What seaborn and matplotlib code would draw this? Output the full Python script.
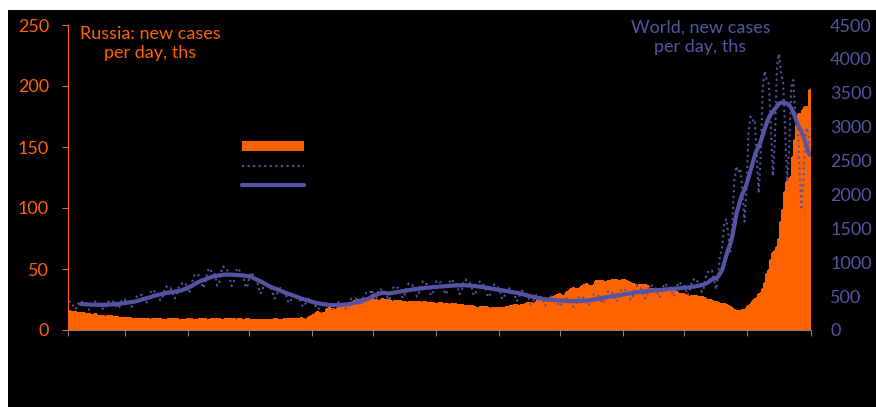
import numpy as np
import pandas as pd
import matplotlib
matplotlib.use("Agg")
import matplotlib.pyplot as plt
from matplotlib.patches import Patch, Rectangle
from matplotlib.lines import Line2D
import seaborn as sns

# Russia: new cases per day, thousands (one value per day, one row per week)
russia_daily = [
    15.2, 15.0, 14.9, 14.6, 14.3, 14.1, 14.0,
    13.8, 13.4, 13.2, 12.9, 12.6, 12.4, 12.8,
    11.8, 11.6, 11.5, 11.3, 11.0, 11.2, 11.4,
    11.1, 10.8, 10.6, 10.5, 10.2, 9.9, 9.8,
    9.8, 9.7, 9.6, 9.4, 9.3, 9.2, 9.3,
    9.3, 9.2, 9.0, 9.0, 8.9, 8.6, 8.8,
    8.7, 8.8, 9.1, 9.0, 8.6, 8.3, 8.5,
    8.7, 8.8, 9.0, 8.8, 8.7, 8.3, 8.3,
    8.3, 8.5, 8.7, 8.7, 8.8, 8.3, 8.3,
    8.6, 8.7, 8.8, 8.8, 8.8, 8.3, 8.1,
    8.8, 9.0, 9.3, 9.2, 8.8, 8.4, 8.6,
    8.8, 9.0, 9.3, 9.3, 8.9, 8.5, 8.8,
    8.7, 8.4, 8.5, 8.8, 8.7, 8.3, 8.3,
    8.3, 8.2, 8.3, 8.4, 8.6, 8.2, 8.4,
    8.2, 8.5, 8.6, 8.9, 8.7, 8.0, 7.9,
    8.3, 8.8, 9.0, 9.2, 9.3, 8.9, 9.0,
    8.9, 9.2, 9.6, 9.0, 8.6, 9.2, 10.4,
    11.7, 12.5, 13.5, 14.7, 13.7, 13.4, 14.1,
    14.2, 17.3, 17.9, 17.6, 17.4, 16.7, 17.6,
    20.2, 20.4, 21.7, 21.7, 20.5, 20.6, 21.0,
    23.5, 23.2, 24.4, 24.4, 25.1, 23.4, 24.0,
    25.1, 25.8, 25.1, 24.7, 24.4, 23.8, 24.1,
    25.3, 25.0, 24.8, 24.4, 24.0, 23.3, 23.5,
    24.1, 23.8, 23.9, 23.3, 22.8, 22.4, 22.6,
    23.0, 23.3, 23.2, 23.1, 23.0, 22.1, 22.6,
    22.6, 22.2, 22.1, 22.0, 22.3, 21.4, 21.6,
    21.9, 21.9, 21.6, 21.6, 21.0, 20.7, 21.0,
    21.0, 21.1, 20.8, 20.6, 20.1, 19.6, 19.7,
    19.6, 19.6, 19.5, 18.9, 18.3, 17.9, 18.6,
    18.9, 18.8, 18.6, 17.9, 17.3, 17.9, 18.1,
    18.0, 18.2, 18.1, 17.8, 17.5, 18.8, 19.0,
    19.6, 19.9, 20.2, 20.3, 19.9, 20.2, 20.9,
    21.4, 21.9, 22.4, 22.2, 21.6, 22.4, 23.9,
    23.8, 24.5, 25.1, 24.9, 24.5, 25.1, 27.0,
    27.2, 27.9, 29.0, 29.4, 28.2, 27.9, 28.7,
    31.3, 32.2, 33.2, 34.3, 34.0, 33.7, 34.1,
    35.7, 37.1, 37.7, 35.6, 35.7, 36.4, 36.6,
    39.8, 40.1, 40.3, 40.2, 39.4, 38.6, 40.4,
    40.5, 40.9, 41.3, 40.7, 39.9, 39.2, 40.8,
    40.8, 40.0, 39.2, 38.8, 37.6, 36.6, 36.3,
    36.8, 37.1, 37.1, 37.1, 35.7, 33.9, 33.8,
    33.6, 33.5, 33.5, 33.4, 32.6, 32.1, 32.6,
    32.9, 32.8, 32.5, 32.1, 31.6, 30.7, 29.9,
    29.9, 29.6, 28.5, 28.0, 27.4, 28.0, 28.0,
    27.8, 27.4, 26.9, 26.8, 25.9, 25.0, 24.7,
    24.5, 23.8, 23.2, 22.8, 21.9, 21.2, 21.2,
    21.0, 20.1, 19.3, 18.6, 17.5, 16.8, 15.8,
    15.6, 15.9, 16.0, 16.2, 17.5, 19.5, 21.1,
    23.8, 25.1, 26.2, 29.1, 30.2, 33.9, 38.4,
    45.5, 49.5, 57.2, 63.2, 65.1, 67.8, 74.7,
    88.8, 98.0, 113.1, 121.2, 124.1, 125.8, 141.9,
    155.7, 168.2, 177.3, 166.6, 180.5, 183.1, 180.5,
    197.1,
]

# World: new cases per day, thousands
world_daily = [
    420, 418, 378, 307, 329, 404, 432,
    404, 403, 365, 298, 319, 393, 422,
    400, 402, 366, 300, 324, 401, 433,
    414, 418, 383, 316, 343, 427, 464,
    442, 449, 415, 344, 376, 471, 514,
    508, 517, 477, 396, 433, 542, 593,
    569, 576, 528, 436, 474, 590, 642,
    610, 616, 564, 464, 503, 625, 678,
    690, 705, 653, 544, 597, 749, 822,
    800, 811, 745, 616, 671, 836, 911,
    870, 874, 796, 652, 703, 870, 939,
    883, 880, 797, 648, 695, 853, 915,
    875, 864, 774, 624, 662, 806, 855,
    770, 755, 670, 536, 564, 679, 715,
    665, 652, 580, 464, 488, 589, 620,
    575, 563, 501, 400, 421, 508, 534,
    492, 483, 430, 344, 362, 438, 461,
    424, 420, 376, 304, 323, 393, 418,
    395, 396, 360, 294, 317, 391, 422,
    402, 408, 376, 312, 341, 426, 465,
    457, 467, 432, 360, 395, 496, 544,
    534, 541, 600, 470, 450, 563, 613,
    580, 585, 536, 442, 479, 596, 646,
    620, 625, 571, 470, 510, 633, 686,
    657, 660, 603, 494, 534, 663, 716,
    678, 681, 620, 509, 550, 679, 734,
    702, 704, 640, 524, 565, 697, 752,
    716, 715, 648, 528, 567, 697, 749,
    703, 699, 630, 511, 546, 669, 715,
    670, 664, 598, 484, 516, 631, 673,
    633, 627, 564, 456, 486, 593, 632,
    594, 588, 526, 424, 450, 547, 581,
    532, 526, 471, 380, 403, 491, 521,
    491, 487, 439, 356, 380, 465, 496,
    469, 467, 422, 344, 369, 454, 486,
    458, 459, 418, 342, 369, 457, 492,
    472, 476, 437, 360, 390, 487, 528,
    511, 516, 473, 390, 424, 528, 573,
    545, 551, 505, 416, 452, 562, 610,
    589, 593, 543, 446, 483, 601, 651,
    617, 620, 565, 464, 501, 621, 671,
    638, 640, 584, 478, 517, 639, 691,
    654, 658, 600, 492, 531, 658, 711,
    672, 678, 621, 512, 556, 691, 750,
    701, 719, 669, 560, 617, 778, 856,
    851, 880, 756, 598, 782, 1104, 1200,
    1551, 1639, 1436, 1156, 1534, 2197, 2418,
    2326, 2385, 2033, 1598, 2075, 2912, 3148,
    3088, 3111, 2609, 2020, 2585, 3579, 3820,
    3680, 3634, 2990, 2271, 2854, 3882, 4073,
    3771, 3650, 2942, 2190, 2695, 3590, 3688,
    3177, 3056, 2447, 1809, 2211, 2923, 2980,
    2690,
]

left_ticks = [0, 50, 100, 150, 200, 250]
right_ticks = [0, 500, 1000, 1500, 2000, 2500, 3000, 3500, 4000, 4500]
month_lengths = [28, 31, 30, 31, 30, 31, 31, 30, 31, 30, 31, 31]

left_title = "Russia: new cases\nper day, ths"
right_title = "World, new cases\nper day, ths"

ORANGE = "#FF6200"
PURPLE = "#5753A4"
GREY = "#808080"

days = np.arange(len(russia_daily))
df = pd.DataFrame({"day": days, "russia": russia_daily, "world": world_daily})
df["world_avg7"] = df["world"].rolling(7).mean()

sns.set_theme(style="dark", rc={"axes.facecolor": "black", "figure.facecolor": "white"})
plt.rcParams["font.family"] = ["Lato", "DejaVu Sans"]

W, H = 876, 407
fig = plt.figure(figsize=(W / 100, H / 100), dpi=100, facecolor="white")
fig.patches.append(Rectangle((8 / W, 0), 1, 1 - 10 / H, transform=fig.transFigure,
                             facecolor="black", edgecolor="none", zorder=-10))

x0, x1, ytop, ybot = 67.6, 810.6, 25.0, 330.0
ax = fig.add_axes([x0 / W, 1 - ybot / H, (x1 - x0) / W, (ybot - ytop) / H])
ax.set_facecolor("black")

# daily bars drawn edge to edge, without anti-aliasing seams between them
sns.barplot(data=df, x="day", y="russia", native_scale=True, width=1, color=ORANGE,
            saturation=1, linewidth=0.8, edgecolor=ORANGE, errorbar=None,
            antialiased=False, ax=ax)

ax2 = ax.twinx()
sns.lineplot(data=df, x="day", y="world", ax=ax2, color=PURPLE, lw=1.5,
             linestyle=(0, (1, 1.67)), errorbar=None)
sns.lineplot(data=df, x="day", y="world_avg7", ax=ax2, color=PURPLE, lw=3,
             errorbar=None)

ax.set_xlim(-0.5, len(days) - 0.5)
ax.set_ylim(0, 250)
ax.set_yticks(left_ticks)
ax2.set_ylim(0, 4500)
ax2.set_yticks(right_ticks)
ax.set_xticks(np.cumsum([0] + month_lengths) - 0.5)

for a in (ax, ax2):
    a.set_xlabel("")
    a.set_ylabel("")
    a.grid(False)

ax.tick_params(axis="x", bottom=True, length=4, width=0.8, color=GREY,
               labelbottom=False, direction="out")
ax.tick_params(axis="y", left=True, colors=ORANGE, labelsize=13, length=4.3,
               width=0.8, pad=9, direction="out")
ax2.tick_params(axis="y", right=True, colors=PURPLE, labelsize=13, length=0, pad=14)

for s in ("top", "right"):
    ax.spines[s].set_visible(False)
ax.spines["left"].set_color(ORANGE)
ax.spines["left"].set_linewidth(0.8)
ax.spines["bottom"].set_color(GREY)
ax.spines["bottom"].set_linewidth(0.8)
for s in ax2.spines.values():
    s.set_visible(False)

fig.text(150 / W, 1 - 43.7 / H, left_title, color=ORANGE, fontsize=13,
         ha="center", va="center", linespacing=1.27)
fig.text(700.5 / W, 1 - 37 / H, right_title, color=PURPLE, fontsize=13,
         ha="center", va="center", linespacing=1.27)

handles = [
    Patch(facecolor=ORANGE, edgecolor="none"),
    Line2D([], [], color=PURPLE, lw=1.5, linestyle=(0, (1, 1.67))),
    Line2D([], [], color=PURPLE, lw=3),
]
ax.legend(handles, ["", "", ""], loc="upper left",
          bbox_to_anchor=(242 / W, 1 - 141 / H), bbox_transform=fig.transFigure,
          frameon=False, fontsize=10, handlelength=4.46, handleheight=0.72,
          labelspacing=0.55, borderpad=0, borderaxespad=0, handletextpad=0)

fig.savefig("out.png", dpi=100, facecolor="white")
